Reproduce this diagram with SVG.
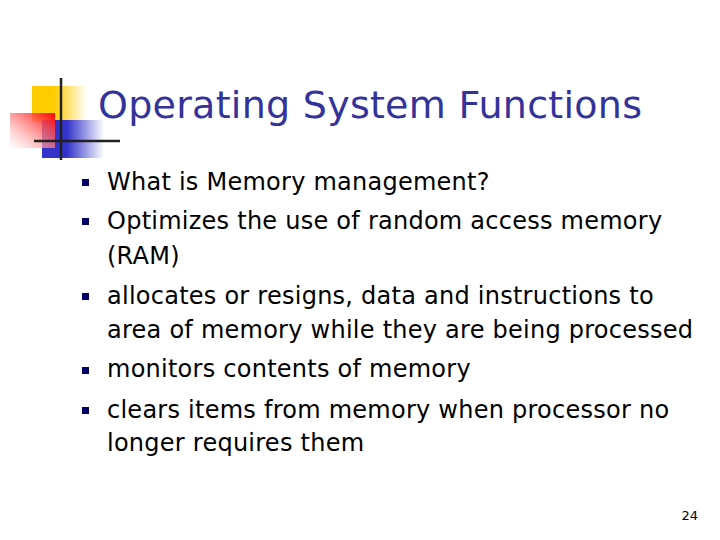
<svg xmlns="http://www.w3.org/2000/svg" width="720" height="540" viewBox="0 0 720 540">
<defs>
<linearGradient id="gy" x1="0" x2="1"><stop offset="0" stop-color="#ffcc00"/><stop offset="0.4" stop-color="#ffcc00"/><stop offset="1" stop-color="#ffffff"/></linearGradient>
<linearGradient id="gr" x1="1" y1="0" x2="0" y2="1"><stop offset="0" stop-color="#ff0000"/><stop offset="1" stop-color="#ffffff" stop-opacity="0.5"/></linearGradient>
<linearGradient id="gb" x1="0" x2="1"><stop offset="0" stop-color="#3333cc"/><stop offset="0.4" stop-color="#3333cc"/><stop offset="1" stop-color="#ffffff"/></linearGradient>
<style>
.t{font-family:"DejaVu Sans",sans-serif;font-size:24px;fill:#000;letter-spacing:0.25px}
.b{fill:#000066}
</style>
</defs>
<rect width="720" height="540" fill="#fff"/>
<g id="logo">
<rect x="32" y="86" width="55" height="36" fill="url(#gy)"/>
<rect x="42" y="120" width="62" height="38" fill="url(#gb)"/>
<rect x="10" y="113" width="45" height="35" fill="url(#gr)"/>
<line x1="61" y1="78" x2="61" y2="160" stroke="#222" stroke-width="2.5"/>
<line x1="34" y1="141" x2="120" y2="141" stroke="#222" stroke-width="2.5"/>
</g>
<text id="title" x="98" y="118" font-family="DejaVu Sans,sans-serif" font-size="38" fill="#333399" textLength="544">Operating System Functions</text>
<g id="bullets">
<rect class="b" x="82" y="179" width="7" height="7"/>
<rect class="b" x="82" y="218" width="7" height="7"/>
<rect class="b" x="82" y="293" width="7" height="7"/>
<rect class="b" x="82" y="367" width="7" height="7"/>
<rect class="b" x="82" y="407" width="7" height="7"/>
</g>
<g id="text">
<text class="t" x="107" y="190">What is Memory management?</text>
<text class="t" x="107" y="229">Optimizes the use of random access memory</text>
<text class="t" x="107" y="264">(RAM)</text>
<text class="t" x="107" y="304">allocates or resigns, data and instructions to</text>
<text class="t" x="107" y="338">area of memory while they are being processed</text>
<text class="t" x="107" y="377">monitors contents of memory</text>
<text class="t" x="107" y="418">clears items from memory when processor no</text>
<text class="t" x="107" y="451">longer requires them</text>
</g>
<text x="698" y="520" text-anchor="end" font-family="DejaVu Sans,sans-serif" font-size="13">24</text>
</svg>
